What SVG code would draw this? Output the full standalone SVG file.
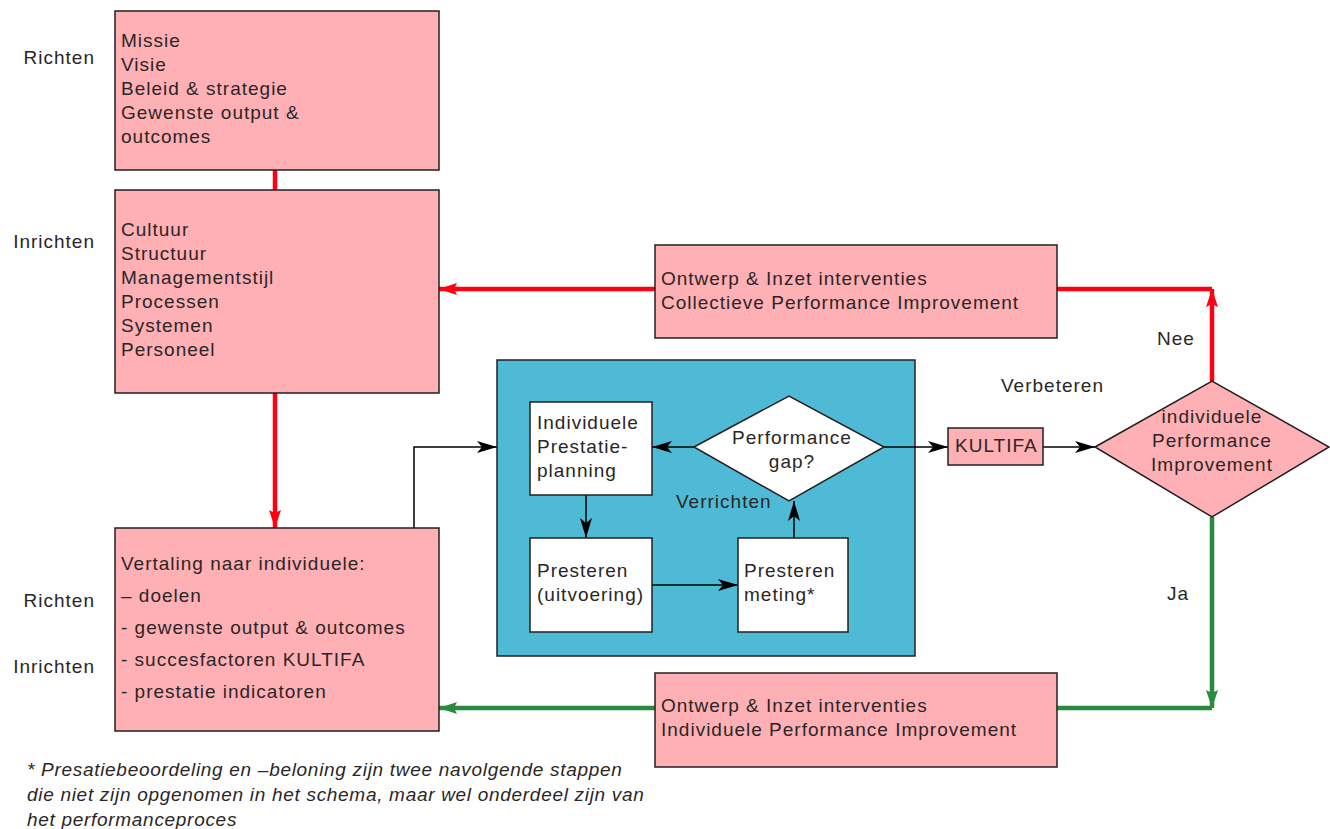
<svg xmlns="http://www.w3.org/2000/svg" width="1330" height="829" viewBox="0 0 1330 829">
<style>
text{font-family:"Liberation Sans",Arial,sans-serif;font-size:19px;letter-spacing:1px;fill:#2a2627}
.pink{fill:#ffb0b5;stroke:#231f20;stroke-width:1.5}
.white{fill:#fff;stroke:#231f20;stroke-width:1.5}
.blk{fill:none;stroke:#000;stroke-width:1.5}
.red{fill:none;stroke:#ff0013;stroke-width:4.5}
.grn{fill:none;stroke:#2a8a3e;stroke-width:4.5}
.it{font-style:italic;letter-spacing:0.7px}
.mid{text-anchor:middle}
.end{text-anchor:end}
</style>
<defs>
<marker id="ab" viewBox="0 0 20 12" refX="20" refY="6" markerWidth="20" markerHeight="12" markerUnits="userSpaceOnUse" orient="auto"><path d="M0,0 L20,6 L0,12 L5,6 z" fill="#000"/></marker>
<marker id="ar" viewBox="0 0 18 12" refX="18" refY="6" markerWidth="18" markerHeight="12" markerUnits="userSpaceOnUse" orient="auto"><path d="M0,0 L18,6 L0,12 L3,6 z" fill="#ff0013"/></marker>
<marker id="ag" viewBox="0 0 18 12" refX="18" refY="6" markerWidth="18" markerHeight="12" markerUnits="userSpaceOnUse" orient="auto"><path d="M0,0 L18,6 L0,12 L3,6 z" fill="#2a8a3e"/></marker>
</defs>
<rect width="1330" height="829" fill="#fff"/>
<g id="connectors">
<path class="red" d="M275,170 V190"/>
<path class="red" d="M275,393 V528" marker-end="url(#ar)"/>
<path class="red" d="M655,289 H439" marker-end="url(#ar)"/>
<path class="red" d="M1212,381 V289"  marker-end="url(#ar)"/>
<path class="red" d="M1057,289 H1212"/>
<path class="grn" d="M1212,517 V708" marker-end="url(#ag)"/>
<path class="grn" d="M1057,708 H1212"/>
<path class="grn" d="M655,708 H439" marker-end="url(#ag)"/>
<path class="blk" d="M414,528 V447 H497" marker-end="url(#ab)"/>
</g>
<g id="labels">
<text class="end" x="95" y="64">Richten</text>
<text class="end" x="95" y="248">Inrichten</text>
<text class="end" x="95" y="607">Richten</text>
<text class="end" x="95" y="673">Inrichten</text>
<text x="1157" y="345">Nee</text>
<text x="1001" y="392">Verbeteren</text>
<text x="1167" y="600">Ja</text>
</g>
<g id="box-missie">
<rect class="pink" x="115" y="11" width="324" height="159"/>
<text x="121" y="47">Missie</text>
<text x="121" y="71">Visie</text>
<text x="121" y="95">Beleid &amp; strategie</text>
<text x="121" y="119">Gewenste output &amp;</text>
<text x="121" y="143">outcomes</text>
</g>
<g id="box-cultuur">
<rect class="pink" x="115" y="190" width="324" height="203"/>
<text x="121" y="236">Cultuur</text>
<text x="121" y="260">Structuur</text>
<text x="121" y="284">Managementstijl</text>
<text x="121" y="308">Processen</text>
<text x="121" y="332">Systemen</text>
<text x="121" y="356">Personeel</text>
</g>
<g id="box-vertaling">
<rect class="pink" x="115" y="528" width="324" height="203"/>
<text x="121" y="570">Vertaling naar individuele:</text>
<text x="121" y="602">– doelen</text>
<text x="121" y="634">- gewenste output &amp; outcomes</text>
<text x="121" y="666">- succesfactoren KULTIFA</text>
<text x="121" y="698">- prestatie indicatoren</text>
</g>
<g id="box-collectief">
<rect class="pink" x="655" y="245" width="402" height="93"/>
<text x="661" y="285">Ontwerp &amp; Inzet interventies</text>
<text x="661" y="309">Collectieve Performance Improvement</text>
</g>
<g id="box-individueel">
<rect class="pink" x="655" y="673" width="402" height="94"/>
<text x="661" y="712">Ontwerp &amp; Inzet interventies</text>
<text x="661" y="736">Individuele Performance Improvement</text>
</g>
<g id="verrichten">
<rect x="497" y="360" width="418" height="296" fill="#4fbad6" stroke="#231f20" stroke-width="1.5"/>
<text x="676" y="508">Verrichten</text>
</g>
<g id="inner-connectors">
<path class="blk" d="M694,447 H652" marker-end="url(#ab)"/>
<path class="blk" d="M586,495 V538" marker-end="url(#ab)"/>
<path class="blk" d="M652,585 H738" marker-end="url(#ab)"/>
<path class="blk" d="M794,538 V501" marker-end="url(#ab)"/>
<path class="blk" d="M884,447 H948" marker-end="url(#ab)"/>
<path class="blk" d="M1043,447 H1095" marker-end="url(#ab)"/>
</g>
<g id="box-planning">
<rect class="white" x="530" y="402" width="122" height="93"/>
<text x="537" y="429">Individuele</text>
<text x="537" y="453">Prestatie-</text>
<text x="537" y="477">planning</text>
</g>
<g id="box-uitvoering">
<rect class="white" x="530" y="538" width="122" height="94"/>
<text x="537" y="577">Presteren</text>
<text x="537" y="601">(uitvoering)</text>
</g>
<g id="box-meting">
<rect class="white" x="738" y="538" width="110" height="94"/>
<text x="744" y="577">Presteren</text>
<text x="744" y="601">meting*</text>
</g>
<g id="gap">
<polygon class="white" points="694,447 789,396 884,447 789,501"/>
<text class="mid" x="792" y="444">Performance</text>
<text class="mid" x="792" y="468">gap?</text>
</g>
<g id="kultifa">
<rect class="pink" x="948" y="428" width="95" height="37"/>
<text x="955" y="452">KULTIFA</text>
</g>
<g id="decision">
<polygon class="pink" points="1095,447 1212,381 1329,447 1212,517"/>
<text class="mid" x="1212" y="423">individuele</text>
<text class="mid" x="1212" y="447">Performance</text>
<text class="mid" x="1212" y="471">Improvement</text>
</g>
<g id="footnote">
<text class="it" x="27" y="776">* Presatiebeoordeling en –beloning zijn twee navolgende stappen</text>
<text class="it" x="27" y="801">die niet zijn opgenomen in het schema, maar wel onderdeel zijn van</text>
<text class="it" x="27" y="826">het performanceproces</text>
</g>
</svg>
